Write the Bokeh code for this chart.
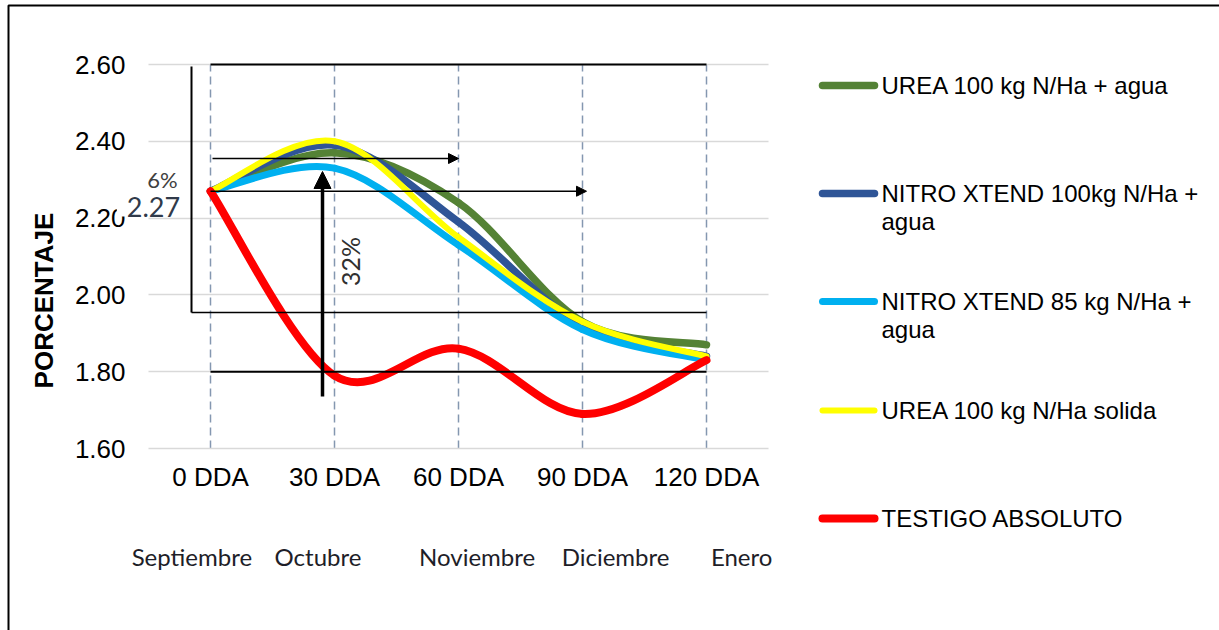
import numpy as np
from bokeh.plotting import figure
from bokeh.models import (Range1d, FixedTicker, PrintfTickFormatter, Label,
                          LinearAxis, Arrow, NormalHead, BoxAnnotation)
from bokeh.core.properties import value
from bokeh.embed import file_html
from bokeh.resources import INLINE

# ---- data -------------------------------------------------------------
dda = [0, 30, 60, 90, 120]
dda_labels = ["0 DDA", "30 DDA", "60 DDA", "90 DDA", "120 DDA"]
months = ["Septiembre", "Octubre", "Noviembre", "Diciembre", "Enero"]
y_ticks = [1.60, 1.80, 2.00, 2.20, 2.40, 2.60]

urea_agua = [2.27, 2.37, 2.24, 1.93, 1.87]
nitro_100 = [2.27, 2.39, 2.19, 1.92, 1.84]
nitro_85 = [2.27, 2.33, 2.13, 1.91, 1.83]
urea_solida = [2.27, 2.40, 2.15, 1.93, 1.84]
testigo = [2.27, 1.79, 1.86, 1.69, 1.83]

series_names = [
    "UREA 100 kg N/Ha + agua",
    "NITRO XTEND 100kg N/Ha +\nagua",
    "NITRO XTEND 85 kg N/Ha +\nagua",
    "UREA 100 kg N/Ha solida",
    "TESTIGO ABSOLUTO",
]
series_values = [urea_agua, nitro_100, nitro_85, urea_solida, testigo]
series_colors = ["#548235", "#2f5597", "#00b0f0", "#ffff00", "#ff0000"]
series_widths = [7.5, 7.5, 7, 6, 8]

# ---- geometry: the plotting area inside a full-canvas frame ----------
W, H = 1219, 630
PL, PR, PT, PB = 148, 768, 64, 448          # plot area in canvas pixels
X_LO, X_HI = -15, 135
Y_LO, Y_HI = 1.60, 2.60


def sx(px):
    """canvas x pixel -> data x"""
    return X_LO + (px - PL) * (X_HI - X_LO) / (PR - PL)


def sy(py):
    """canvas y pixel (from top) -> data y"""
    return Y_HI - (py - PT) * (Y_HI - Y_LO) / (PB - PT)


def smooth_segments(xs, ys):
    """Cubic Bezier pieces through the points (Catmull-Rom style tangents)."""
    out = {}
    for key, v in (("x", xs), ("y", ys)):
        v = np.asarray(v, dtype=float)
        n = len(v)
        pp = np.concatenate([[v[0]], v, [v[-1]]])
        out[key + "0"] = v[:-1]
        out[key + "1"] = v[1:]
        out["c" + key + "0"] = pp[1:n] + (pp[2:n + 1] - pp[0:n - 1]) / 6.0
        out["c" + key + "1"] = pp[2:n + 1] - (pp[3:n + 2] - pp[1:n]) / 6.0
    return out


p = figure(width=W, height=H, output_backend="svg", toolbar_location=None,
           x_range=Range1d(sx(0), sx(W)), y_range=Range1d(sy(H), sy(0)),
           min_border=0)
p.outline_line_color = None
p.background_fill_color = "white"
p.border_fill_color = "white"

# axes, pinned to the edges of the plotting area
p.xaxis.fixed_location = Y_LO
p.yaxis.fixed_location = X_LO
p.xaxis.ticker = FixedTicker(ticks=dda)
p.xaxis.major_label_overrides = {t: lab for t, lab in zip(dda, dda_labels)}
p.yaxis.ticker = FixedTicker(ticks=y_ticks)
p.yaxis.formatter = PrintfTickFormatter(format="%.2f")

month_ticks = [-4.5, 26.0, 64.5, 98.0, 128.5]
month_axis = LinearAxis(fixed_location=Y_LO,
                        ticker=FixedTicker(ticks=month_ticks),
                        major_label_overrides=dict(zip(month_ticks, months)))
p.add_layout(month_axis, "below")

for ax in (p.xaxis[0], p.yaxis[0], month_axis):
    ax.axis_line_color = None
    ax.major_tick_line_color = None
    ax.minor_tick_line_color = None
    ax.major_tick_out = 0
    ax.major_tick_in = 0
    ax.major_label_text_font = "Liberation Sans"
    ax.major_label_text_font_size = "26px"
    ax.major_label_text_color = "black"
p.xaxis[0].major_label_standoff = 13
p.yaxis[0].major_label_standoff = 23
month_axis.major_label_text_font = "Lato"
month_axis.major_label_text_font_size = "24px"
month_axis.major_label_text_color = "#1e1e28"
month_axis.major_label_standoff = 93

# grids limited to the plotting area
p.ygrid.grid_line_color = "#d9d9d9"
p.ygrid.grid_line_width = 1.5
p.ygrid.cross_bounds = (X_LO, X_HI)
p.xgrid.grid_line_color = "#8497b0"
p.xgrid.grid_line_width = 1.5
p.xgrid.grid_line_dash = "8 5"
p.xgrid.cross_bounds = (Y_LO, Y_HI)

# smoothed series
for vals, col, lw in zip(series_values, series_colors, series_widths):
    seg = smooth_segments(dda, vals)
    p.bezier(x0=seg["x0"], y0=seg["y0"], x1=seg["x1"], y1=seg["y1"],
             cx0=seg["cx0"], cy0=seg["cy0"], cx1=seg["cx1"], cy1=seg["cy1"],
             line_color=col, line_width=lw, line_cap="round")


# ---- drawn reference lines and arrows --------------------------------
def line(xa, ya, xb, yb, w=2, head=None):
    p.add_layout(Arrow(x_start=xa, y_start=ya, x_end=xb, y_end=yb, end=head,
                       line_color="black", line_width=w))


def head(size):
    return NormalHead(size=size, fill_color="black", line_color="black",
                      line_width=1)


line(dda[0], y_ticks[-1], dda[-1], y_ticks[-1], 2)
line(dda[0], 1.80, dda[-1], 1.80, 2)
line(sx(191), sy(66), sx(191), sy(312), 2)
line(sx(191), sy(312), dda[-1], sy(312), 1.5)
line(sx(212), sy(158), dda[2], sy(158), 1.5, head(10))
line(dda[0], urea_agua[0], sx(586), urea_agua[0], 1.5, head(10))
line(sx(322), sy(396), sx(322), sy(171), 3.5, head(17))

note_font = "Lato"
p.add_layout(Label(x=sx(162), y=sy(179), text="6%", text_font=note_font,
                   text_font_size="22px", text_color="#404040",
                   text_align="center", text_baseline="middle"))
p.add_layout(Label(x=sx(149), y=sy(206), text=f"{urea_agua[0]:.2f}",
                   text_font=note_font, text_font_size="27px",
                   text_color="#303a4a", text_align="center",
                   text_baseline="middle", background_fill_color="white",
                   padding=dict(left=10, right=2, top=0, bottom=0)))
p.add_layout(Label(x=sx(349), y=sy(261), text="32%", text_font=note_font,
                   text_font_size="25px", text_color="#303030", angle=np.pi / 2,
                   text_align="center", text_baseline="middle"))

# y-axis title
p.add_layout(Label(x=sx(43), y=sy(300), text="PORCENTAJE",
                   text_font="Liberation Sans", text_font_style="bold",
                   text_font_size="26px", text_color="black", angle=np.pi / 2,
                   text_align="center", text_baseline="middle"))

# ---- legend ------------------------------------------------------------
legend_py = [85, 193, 301, 410, 518]
for name, col, lw, py in zip(series_names, series_colors, series_widths,
                             legend_py):
    p.segment(x0=[sx(822)], y0=[sy(py)], x1=[sx(874)], y1=[sy(py)],
              line_color=col, line_width=lw, line_cap="round")
    parts = name.split("\n")
    p.text(x=[sx(881)] * len(parts),
           y=[sy(py + 28 * k) for k in range(len(parts))], text=parts,
           text_font=value("Liberation Sans"), text_font_size="24px",
           text_color="black", text_align="left", text_baseline="middle")

# outer frame of the figure
p.add_layout(BoxAnnotation(left=sx(8), top=sy(5), right=sx(W + 40),
                           bottom=sy(H + 40), fill_alpha=0.0,
                           line_color="black", line_alpha=1.0, line_width=2))

open("out.html", "w").write(file_html(p, INLINE))
